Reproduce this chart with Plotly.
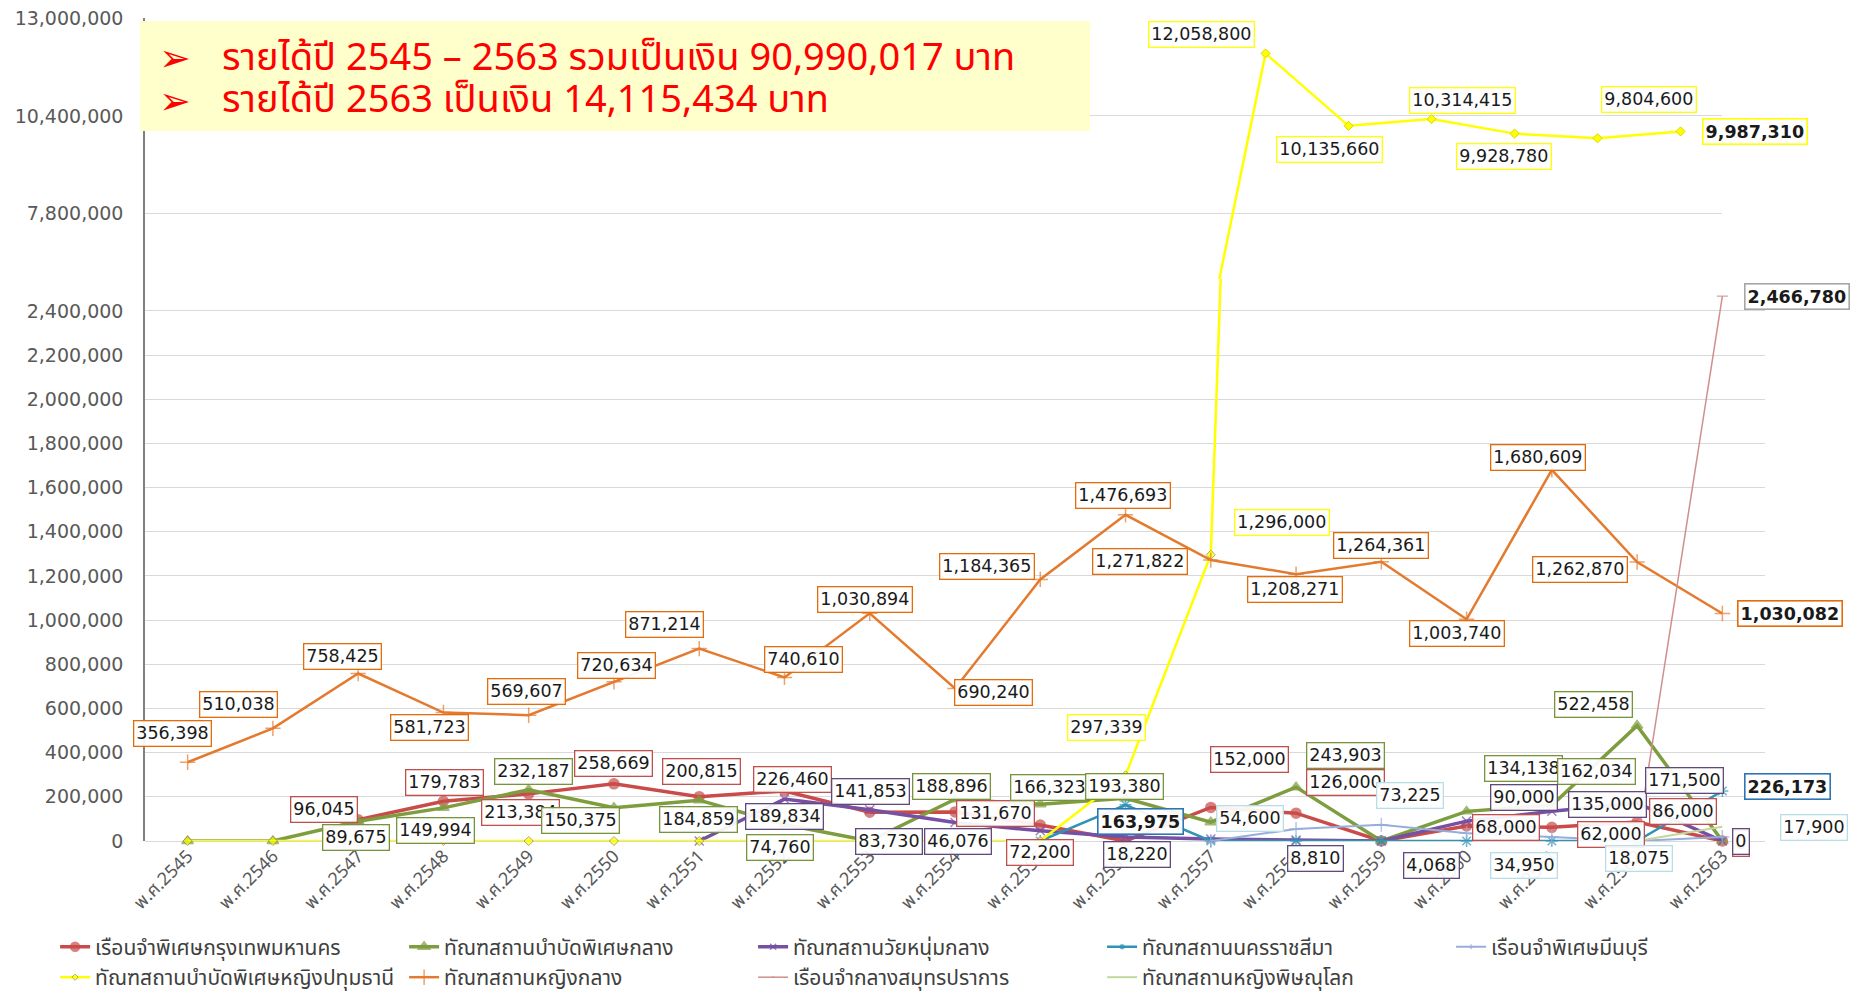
import plotly.graph_objects as go

# ---------------- data ----------------
years = ["พ.ศ.2545", "พ.ศ.2546", "พ.ศ.2547", "พ.ศ.2548", "พ.ศ.2549", "พ.ศ.2550",
         "พ.ศ.2551", "พ.ศ.2552", "พ.ศ.2553", "พ.ศ.2554", "พ.ศ.2555", "พ.ศ.2556",
         "พ.ศ.2557", "พ.ศ.2558", "พ.ศ.2559", "พ.ศ.2560", "พ.ศ.2561", "พ.ศ.2562",
         "พ.ศ.2563"]

bkk_special = [None, None, 96045, 179783, 213384, 258669, 200815, 226460, 130000,
               131670, 72200, 0, 152000, 126000, 0, 68000, 62000, 86000, 0]
therapy_central = [0, 0, 89675, 149994, 232187, 150375, 184859, 74760, 0, 188896,
                   166323, 193380, 85000, 243903, 0, 134138, 162034, 522458, 0]
youth_central = [None, None, None, None, None, None, 0, 189834, 141853, 83730, 46076,
                 18220, 8810, 4068, 0, 90000, 135000, 171500, 0]
nakhon_ratchasima = [None, None, None, None, None, None, None, None, None, None, 0,
                     163975, 0, 0, 0, 0, 0, 0, 226173]
minburi = [None, None, None, None, None, None, None, None, None, None, None, None, 0,
           54600, 73225, 34950, 18075, 0, 17900]
women_pathum = [0, 0, 0, 0, 0, 0, 0, 0, 0, 0, 0, 297339, 1296000, 12058800, 10135660,
                10314415, 9928780, 9804600, 9987310]
women_central = [356398, 510038, 758425, 581723, 569607, 720634, 871214, 740610,
                 1030894, 690240, 1184365, 1476693, 1271822, 1208271, 1264361,
                 1003740, 1680609, 1262870, 1030082]
samut_prakan = [None, None, None, None, None, None, None, None, None, None, None, None,
                None, None, None, None, None, 0, 2466780]
women_phitsanulok = [None, None, None, None, None, None, None, None, None, None, None,
                     None, None, None, None, None, None, 0, 65000]

names = ["เรือนจำพิเศษกรุงเทพมหานคร", "ทัณฑสถานบำบัดพิเศษกลาง", "ทัณฑสถานวัยหนุ่มกลาง",
         "ทัณฑสถานนครราชสีมา", "เรือนจำพิเศษมีนบุรี", "ทัณฑสถานบำบัดพิเศษหญิงปทุมธานี",
         "ทัณฑสถานหญิงกลาง", "เรือนจำกลางสมุทรปราการ", "ทัณฑสถานหญิงพิษณุโลก"]

y_ticks_bottom = [0, 200000, 400000, 600000, 800000, 1000000, 1200000, 1400000,
                  1600000, 1800000, 2000000, 2200000, 2400000]
y_ticks_top = [7800000, 10400000, 13000000]

title_lines = ["รายได้ปี 2545 – 2563 รวมเป็นเงิน 90,990,017 บาท",
               "รายได้ปี 2563 เป็นเงิน 14,115,434 บาท"]

# ---------------- styling ----------------
S = 1862 / 1568.0  # reference (shrunk) px -> page px
BOTTOM_MAX = 2545000
TOP_RANGE = [6070000, 13000000]
LABEL_FONT = "DejaVu Sans, Verdana, sans-serif"
THAI_FONT = "Noto Sans Thai, Noto Sans, DejaVu Sans, sans-serif"

styles = [
    dict(color="#C94C4A", width=3.5, symbol="circle", size=10, box="#C0504D"),
    dict(color="#7E9D3F", width=3.5, symbol="triangle-up", size=10, box="#77933C"),
    dict(color="#7650A2", width=3.5, symbol="x-thin-open", size=9, box="#604A7B"),
    dict(color="#2F93B6", width=2.5, symbol="asterisk-open", size=10, box="#2E75B6"),
    dict(color="#97AEDB", width=2, symbol="cross-thin-open", size=10, box="#B7DEE8"),
    dict(color="#FFFF00", width=2.5, symbol="diamond", size=7, box="#FFFF00"),
    dict(color="#E47A2E", width=2.5, symbol="cross-thin-open", size=11, box="#E46C0A"),
    dict(color="#CF8F8E", width=1.5, symbol="line-ew-open", size=8, box="#A6A6A6"),
    dict(color="#C3D69B", width=2, symbol="circle", size=0, box="#B7DEE8"),
]
series = [bkk_special, therapy_central, youth_central, nakhon_ratchasima, minburi,
          women_pathum, women_central, samut_prakan, women_phitsanulok]
legend_of = ["legend"] * 5 + ["legend2"] * 4

# label offsets (reference px, relative to data point) by year index
label_offsets = [
    {2: (-29, -9), 3: (1, -16), 4: (-7, 16), 5: (0, -17), 6: (2, -21), 7: (7, -10),
     9: (34, 1), 10: (0, 23), 12: (33, -40), 13: (42, -26), 15: (33, 1), 16: (50, 6),
     17: (39, -9), 18: (16, 2)},
    {2: (-2, 14), 3: (-7, 19), 4: (4, -15), 5: (-28, 11), 6: (-1, 16), 7: (-4, 19),
     9: (-3, -11), 10: (8, -14), 11: (-1, -10), 13: (42, -27), 15: (48, -36),
     16: (38, -28), 17: (-37, -18)},
    {7: (0, 15), 8: (1, -15), 9: (-56, 16), 10: (-69, 9), 11: (10, 15), 12: (88, 16),
     13: (114, 21), 15: (48, -20), 16: (47, -6), 17: (40, -19), 18: (16, 0)},
    {11: (13, 14), 18: (55, -4)},
    {13: (-39, -9), 14: (24, -25), 15: (48, 27), 16: (73, 18), 18: (77, -8)},
    {11: (-16, -40), 12: (60, -27)},
    {i: o for i, o in enumerate([(-13, -24), (-29, -20), (-13, -14), (-12, 13), (-2, -20),
                                 (2, -14), (-29, -20), (16, -15), (-4, -12), (32, 3),
                                 (-45, -11), (-2, -16), (-60, 1), (-1, 13), (0, -14),
                                 (-8, 12), (-12, -10), (-48, 6), (57, 0)])},
    {18: (63, 0)},
    {},
]
top_label_offsets = {13: (-54, -16), 14: (-16, 20), 15: (26, -16), 16: (-9, 19),
                     17: (43, -33), 18: (63, 0)}
bold_labels = {(3, 11), (3, 18), (6, 18), (7, 18), ("top", 18)}

fig = go.Figure()

for k, (name, vals, st) in enumerate(zip(names, series, styles)):
    sizes = [st["size"] if (v is not None and v <= BOTTOM_MAX) else 0 for v in vals]
    marker = dict(symbol=st["symbol"], size=sizes, color=st["color"],
                  line=dict(color=st["color"], width=1.5))
    if k == 5:
        marker = dict(symbol="diamond", size=sizes, color="#FFFF00",
                      line=dict(color="#8C8C3C", width=1))
    fig.add_trace(go.Scatter(
        x=years, y=vals, name=name, mode="lines+markers" if st["size"] else "lines",
        line=dict(color=st["color"], width=st["width"]), marker=marker,
        xaxis="x", yaxis="y", cliponaxis=False, connectgaps=False,
        legend=legend_of[k],
    ))

# top (broken-axis) panel: yellow series again
fig.add_trace(go.Scatter(
    x=years, y=women_pathum, name=names[5], showlegend=False, mode="lines+markers",
    line=dict(color="#FFFF00", width=2.5),
    marker=dict(symbol="diamond", size=7, color="#FFFF00", line=dict(color="#D8D800", width=1)),
    xaxis="x2", yaxis="y2", cliponaxis=True,
))

annotations = []


def add_label(xref, yref, idx, val, off, border, bold):
    txt = f"{val:,}"
    if bold:
        txt = f"<b>{txt}</b>"
    annotations.append(dict(
        x=years[idx], y=val, xref=xref, yref=yref, text=txt, showarrow=False,
        xshift=off[0] * S, yshift=-off[1] * S,
        font=dict(family=LABEL_FONT, size=17.5, color="#1A1A1A"),
        bgcolor="rgba(255,255,255,0.92)", bordercolor=border,
        borderwidth=1.6 if bold else 1.3, borderpad=2,
    ))


for k, (vals, offs, st) in enumerate(zip(series, label_offsets, styles)):
    for idx, off in offs.items():
        add_label("x", "y", idx, vals[idx], off, st["box"], (k, idx) in bold_labels)

for idx, off in top_label_offsets.items():
    add_label("x2", "y2", idx, women_pathum[idx], off, "#FFFF00", ("top", idx) in bold_labels)

# headline box
fig.add_shape(type="rect", xref="paper", yref="paper", x0=-0.0031, x1=0.5833,
              y0=0.8627, y1=0.9964, fillcolor="#FFFFCC", line=dict(width=0), layer="above")
for j, (line, yp) in enumerate(zip(title_lines, [0.9512, 0.8992])):
    annotations.append(dict(x=0.0185, y=yp, xref="paper", yref="paper", text="➢",
                            showarrow=False, xanchor="center", yanchor="middle",
                            font=dict(family="DejaVu Sans", size=38, color="#FF0000")))
    annotations.append(dict(x=0.0463, y=yp, xref="paper", yref="paper", text=line,
                            showarrow=False, xanchor="left", yanchor="middle",
                            font=dict(family=THAI_FONT, size=38, color="#FF0000")))

axis_font = dict(family=LABEL_FONT, size=19, color="#595959")
legend_common = dict(orientation="h", x=-0.0555, xanchor="left", yanchor="top",
                     entrywidth=304, entrywidthmode="pixels", itemwidth=30,
                     font=dict(family=THAI_FONT, size=21, color="#404040"),
                     bgcolor="rgba(0,0,0,0)", tracegroupgap=0)
fig.update_layout(
    width=1862, height=993,
    margin=dict(l=145, r=97, t=18, b=152, autoexpand=False),
    paper_bgcolor="white", plot_bgcolor="white",
    showlegend=True,
    xaxis=dict(domain=[0, 1], type="category", categoryarray=years, range=[-0.5, 18.5],
               tickangle=-45, tickfont=dict(family=THAI_FONT, size=18, color="#595959"),
               showgrid=False, showline=False, zeroline=False, ticks="", anchor="y",
               automargin=False),
    yaxis=dict(domain=[0, 0.683], range=[0, BOTTOM_MAX], tickvals=y_ticks_bottom,
               tickformat=",d", tickfont=axis_font, showgrid=True, gridcolor="#D9D9D9",
               gridwidth=1.2, zeroline=True, zerolinecolor="#D9D9D9", zerolinewidth=1.2,
               showline=True, linecolor="#808080", linewidth=1.5, ticks="",
               ticklabelstandoff=16, anchor="x", automargin=False,
               ticklabeloverflow="allow"),
    xaxis2=dict(domain=[0, 0.9735], type="category", categoryarray=years,
                range=[-0.5, 18.5], showticklabels=False, showgrid=False,
                showline=False, zeroline=False, anchor="y2", automargin=False),
    yaxis2=dict(domain=[0.683, 1], range=TOP_RANGE, tickvals=y_ticks_top,
                tickformat=",d", tickfont=axis_font, showgrid=True, gridcolor="#D9D9D9",
                gridwidth=1.2, zeroline=False, showline=True, linecolor="#808080",
                linewidth=1.5, ticks="", ticklabelstandoff=16, anchor="x2",
                automargin=False, ticklabeloverflow="allow"),
    legend=dict(legend_common, y=-0.104),
    legend2=dict(legend_common, y=-0.141),
    annotations=annotations,
)

# remove the browser's default 8px body margin so the figure fills the window exactly
fig.write_html("out.html", config={"displayModeBar": False},
               post_script="document.body.style.margin='0';document.body.style.overflow='hidden';")
